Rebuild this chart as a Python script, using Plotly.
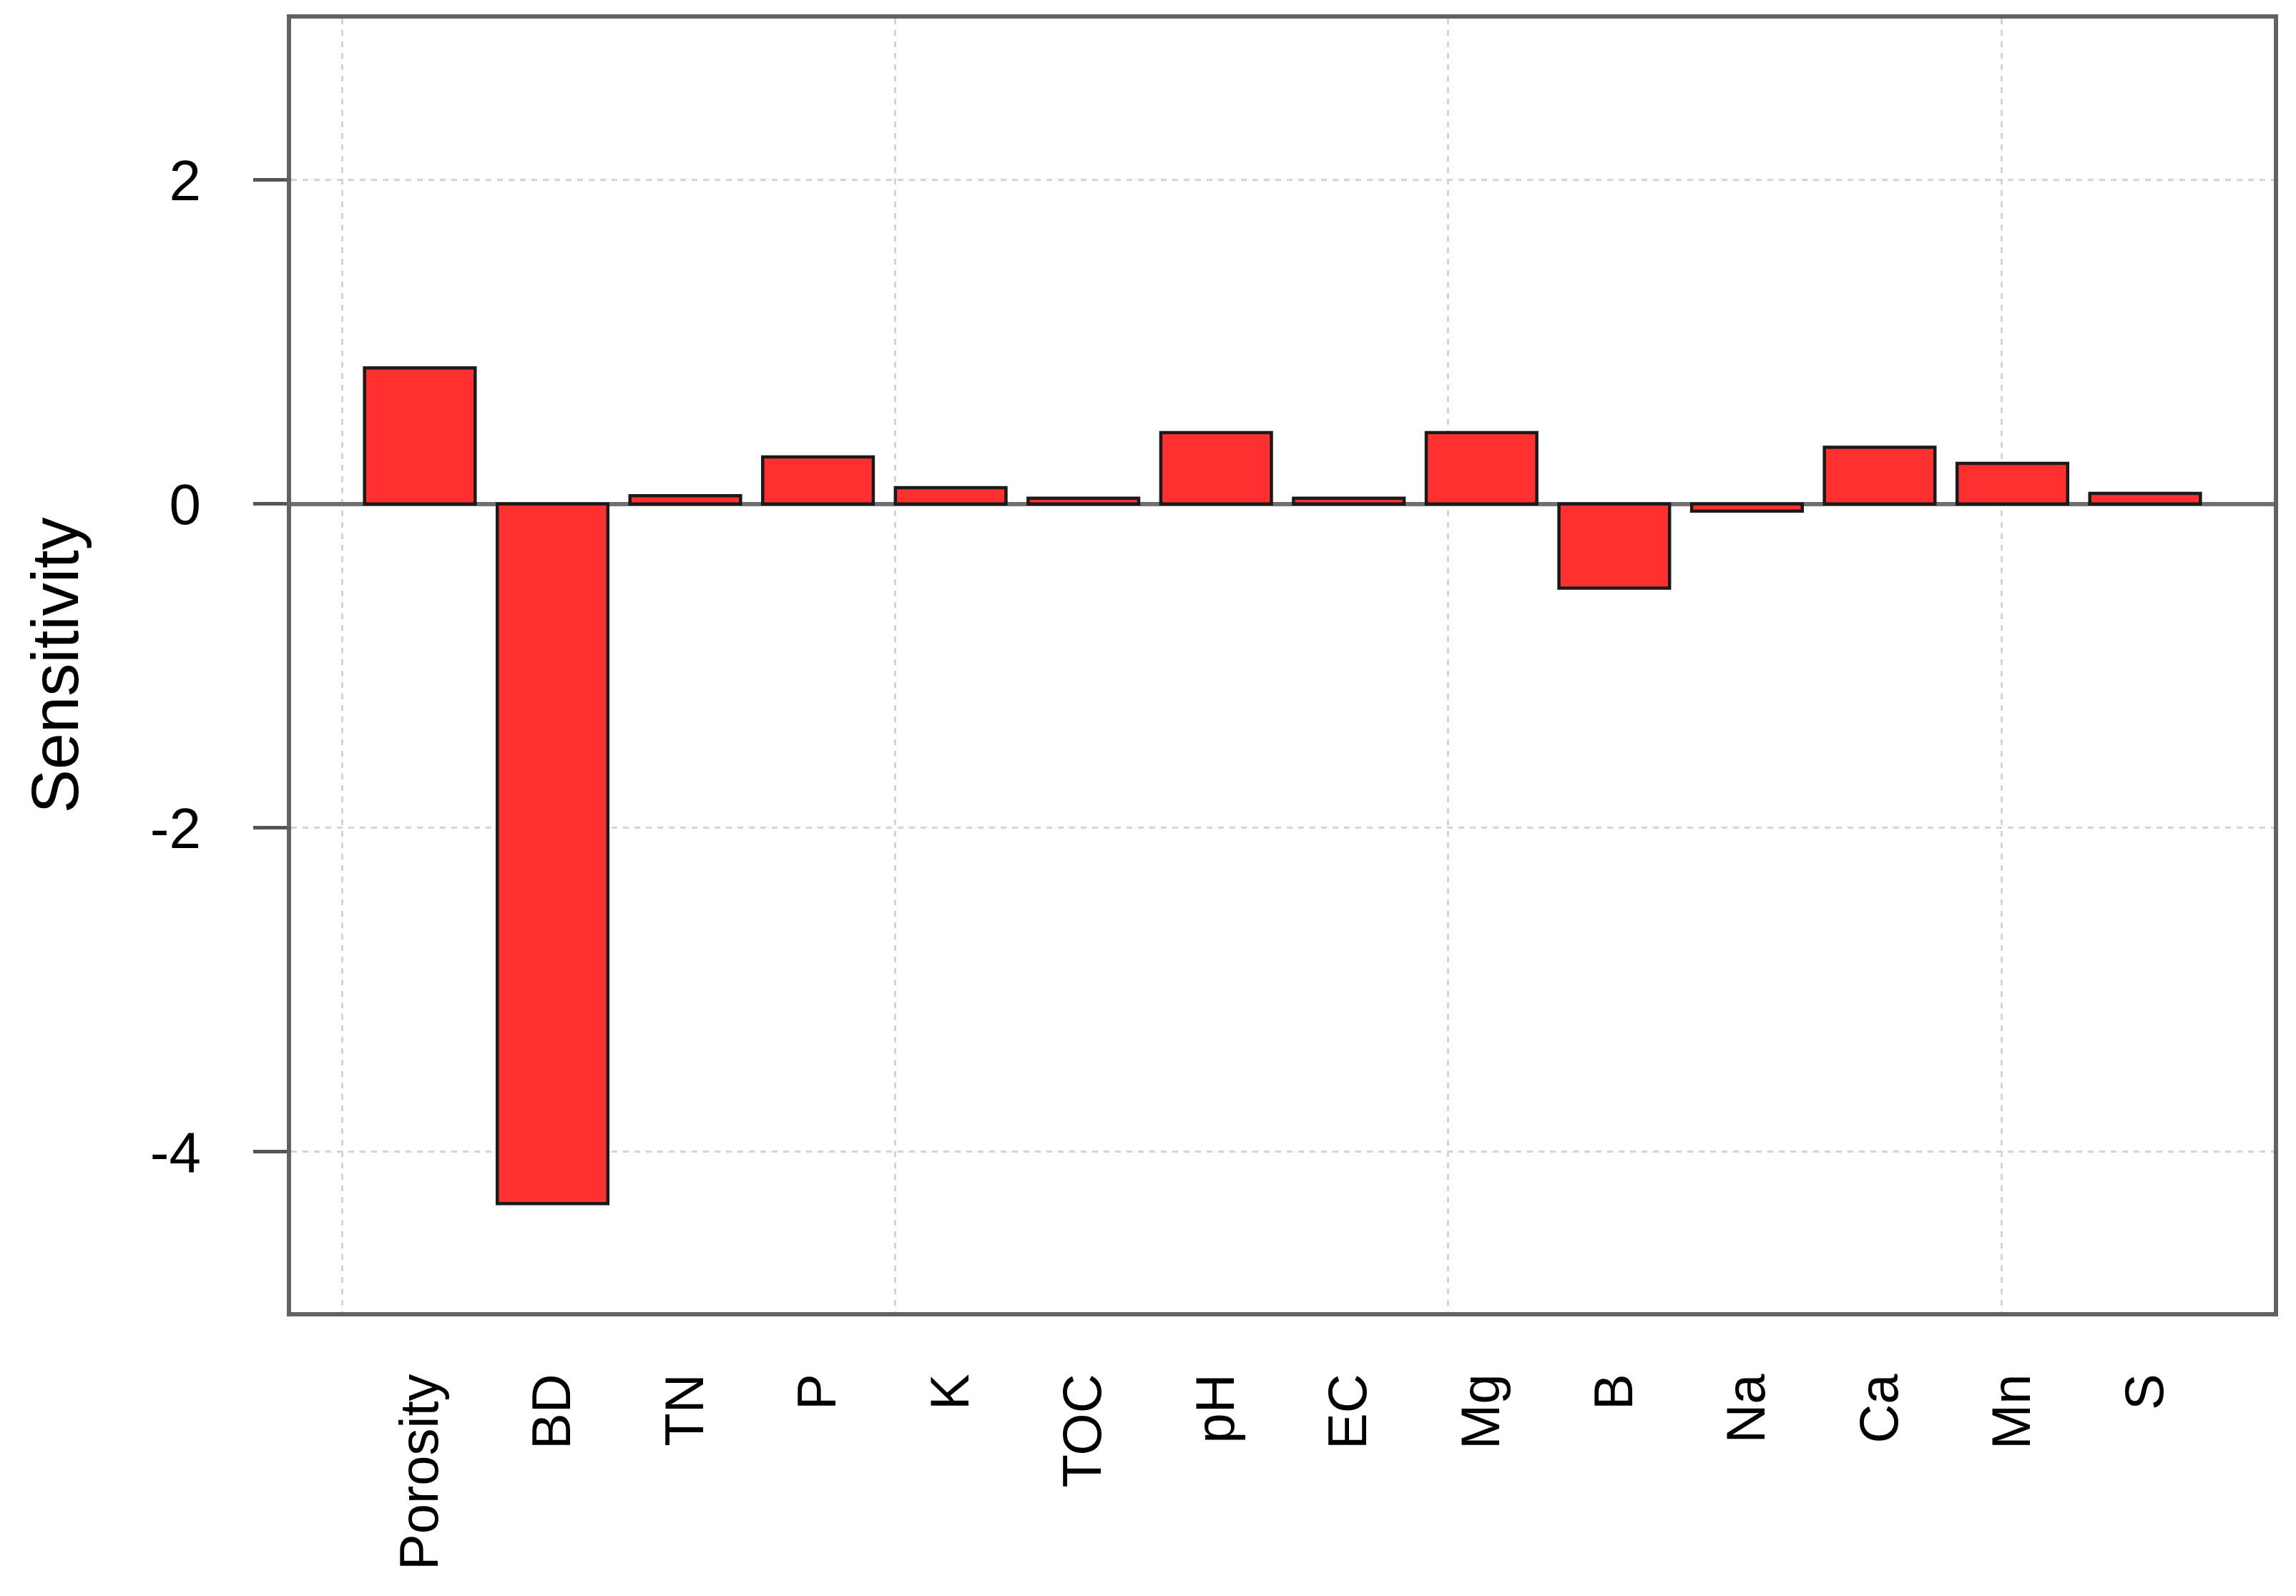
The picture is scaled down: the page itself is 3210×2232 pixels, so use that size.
import numpy as np
import plotly.graph_objects as go

# ---- data ----
categories = ["Porosity", "BD", "TN", "P", "K", "TOC", "pH", "EC",
              "Mg", "B", "Na", "Ca", "Mn", "S"]
sensitivity = [0.84, -4.32, 0.05, 0.29, 0.10, 0.035, 0.44, 0.035,
               0.44, -0.52, -0.045, 0.35, 0.25, 0.065]
y_tick_vals = [-4, -2, 0, 2]
y_tick_text = ["-4", "-2", "0", "2"]
x_grid_vals = [0, 5, 10, 15]

# barplot layout (bar width 1, space 0.2)
bar_width = 1.0
space = 0.2
centers = space + bar_width / 2 + np.arange(len(categories)) * (bar_width + space)

FONT = "Liberation Sans, Arial, sans-serif"
GRID = "#d4d4d4"
FRAME = "#626262"

fig = go.Figure()
fig.add_trace(go.Bar(
    x=centers,
    y=sensitivity,
    width=bar_width,
    marker=dict(color="#FF3030", line=dict(color="#1a1a1a", width=4.5)),
    hoverinfo="skip",
    showlegend=False,
))

L, R = 399, 39
fig.update_layout(
    width=3210,
    height=2232,
    margin=dict(l=L, r=R, t=15, b=405),
    paper_bgcolor="white",
    plot_bgcolor="white",
    font=dict(family=FONT, color="black"),
    annotations=[dict(
        text="Sensitivity",
        xref="paper", yref="paper",
        x=(68 - L) / (3210 - L - R), y=0.5,
        xanchor="center", yanchor="middle",
        textangle=-90, showarrow=False,
        font=dict(size=92, family=FONT, color="black"),
    )],
)

fig.update_xaxes(
    range=[-0.464, 17.464],
    tickmode="array",
    tickvals=centers,
    ticktext=categories,
    tickangle=-90,
    ticks="",
    tickfont=dict(size=76, family=FONT, color="black"),
    ticklabelstandoff=50,
    showgrid=False,
    zeroline=False,
    showline=True, mirror=True, linecolor=FRAME, linewidth=6,
    minor=dict(tickvals=x_grid_vals, showgrid=True, gridcolor=GRID,
               gridwidth=3, griddash="8px,8px", ticks=""),
)

fig.update_yaxes(
    range=[-4.99, 2.996],
    tickmode="array",
    tickvals=y_tick_vals,
    ticktext=y_tick_text,
    ticks="outside", ticklen=47, tickwidth=5, tickcolor="#555555",
    tickfont=dict(size=80, family=FONT, color="black"),
    ticklabelstandoff=57,
    showgrid=True, gridcolor=GRID, gridwidth=3, griddash="8px,8px",
    zeroline=True, zerolinecolor="#707070", zerolinewidth=6,
    showline=True, mirror=True, linecolor=FRAME, linewidth=6,
)

fig.write_html("out.html")
